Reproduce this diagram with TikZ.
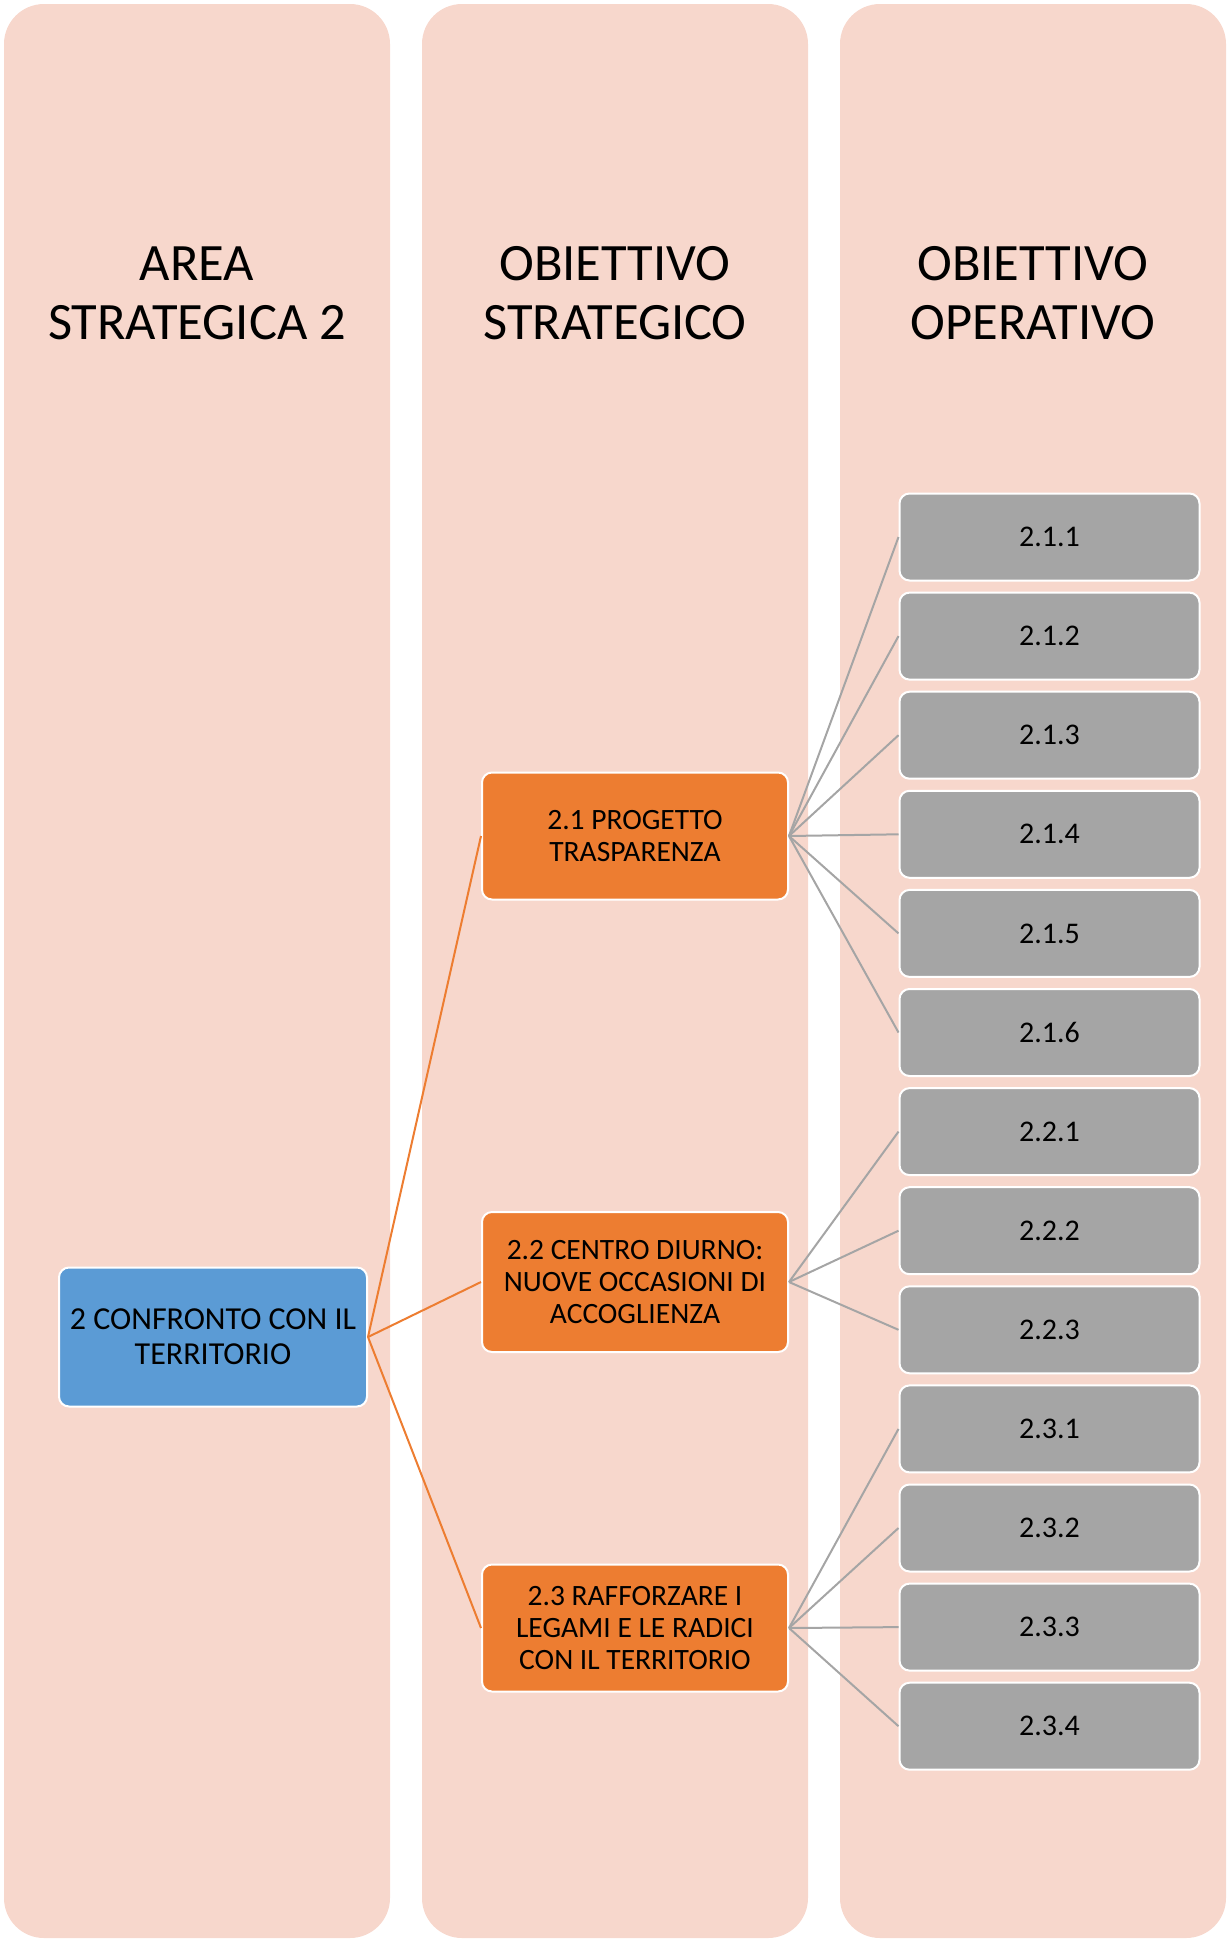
\documentclass[tikz,border=0pt]{standalone}
\usepackage{fontspec}
\setmainfont{Carlito}
\definecolor{colbg}{HTML}{F7D7CC}
\definecolor{areablue}{HTML}{5B9BD5}
\definecolor{objorange}{HTML}{ED7D31}
\definecolor{opgray}{HTML}{A5A5A5}
\begin{document}
\begin{tikzpicture}[x=1pt,y=-1pt,
  column/.style={fill=colbg, draw=none, rounded corners=40pt},
  coltitle/.style={align=center, font=\fontsize{52.5}{59}\selectfont, text=black},
  areabox/.style={draw=white, line width=2pt, fill=areablue, rounded corners=10pt,
    minimum width=308pt, minimum height=139pt, inner sep=0pt, align=center,
    font=\fontsize{32}{35}\selectfont},
  objbox/.style={draw=white, line width=2pt, fill=objorange, rounded corners=10pt,
    minimum width=306pt, inner sep=0pt, align=center,
    font=\fontsize{29.5}{32}\selectfont},
  opbox/.style={draw=white, line width=2pt, fill=opgray, rounded corners=10pt,
    minimum width=300pt, minimum height=87pt, inner sep=0pt, align=center,
    font=\fontsize{30}{36}\selectfont},
  orangelink/.style={draw=objorange, line width=2pt},
  graylink/.style={draw=opgray, line width=2pt}]
\useasboundingbox (0,0) rectangle (1227,1939);

% three columns
\path[column] (4,4) rectangle (390,1938);
\path[column] (422,4) rectangle (808,1938);
\path[column] (840,4) rectangle (1226,1938);

\node[coltitle] (t1) at (197,293) {AREA\\STRATEGICA 2};
\node[coltitle] (t2) at (615,293) {OBIETTIVO\\STRATEGICO};
\node[coltitle] (t3) at (1033,293) {OBIETTIVO\\OPERATIVO};

% area
\node[areabox] (a) at (213,1337) {2 CONFRONTO CON IL\\TERRITORIO};

% strategic objectives
\node[objbox, minimum height=127pt] (o1) at (635,836) {2.1 PROGETTO\\TRASPARENZA};
\node[objbox, minimum height=140pt] (o2) at (635,1282) {2.2 CENTRO DIURNO:\\NUOVE OCCASIONI DI\\ACCOGLIENZA};
\node[objbox, minimum height=127pt] (o3) at (635,1628) {2.3 RAFFORZARE I\\LEGAMI E LE RADICI\\CON IL TERRITORIO};

% operational objectives
\foreach \n/\lab [count=\k from 0] in {p11/2.1.1,p12/2.1.2,p13/2.1.3,p14/2.1.4,p15/2.1.5,p16/2.1.6,
    p21/2.2.1,p22/2.2.2,p23/2.2.3,p31/2.3.1,p32/2.3.2,p33/2.3.3,p34/2.3.4}
  \node[opbox] (\n) at (1049.5,{537+99.1*\k}) {\lab};

% links
\foreach \o in {o1,o2,o3}
  \draw[orangelink] (a.east) -- (\o.west);
\foreach \p in {p11,p12,p13,p14,p15,p16}
  \draw[graylink] (o1.east) -- (\p.west);
\foreach \p in {p21,p22,p23}
  \draw[graylink] (o2.east) -- (\p.west);
\foreach \p in {p31,p32,p33,p34}
  \draw[graylink] (o3.east) -- (\p.west);
\end{tikzpicture}
\end{document}
